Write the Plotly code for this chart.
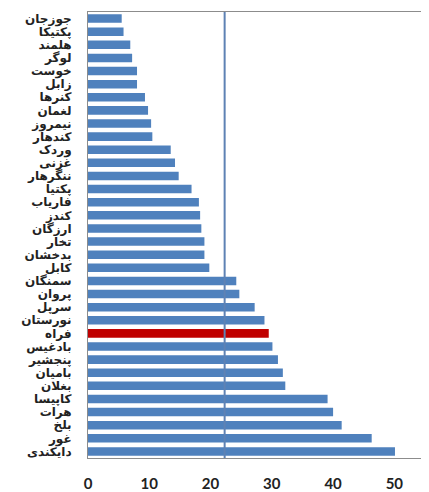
import plotly.graph_objects as go

provinces = ["جوزجان", "پکتیکا", "هلمند", "لوگر", "خوست", "زابل", "کنرها", "لغمان",
             "نیمروز", "کندهار", "وردک", "غزنی", "ننگرهار", "پکتیا", "فاریاب", "کندز",
             "ارزگان", "تخار", "بدخشان", "کابل", "سمنگان", "پروان", "سرپل", "نورستان",
             "فراه", "بادغیس", "پنجشیر", "بامیان", "بغلان", "کاپیسا", "هرات", "بلخ",
             "غور", "دایکندی"]
values = [5.5, 5.8, 6.9, 7.2, 8.0, 8.0, 9.3, 9.8, 10.3, 10.5, 13.5, 14.2, 14.8, 16.9,
          18.1, 18.3, 18.5, 19.0, 19.0, 19.8, 24.2, 24.7, 27.2, 28.8, 29.5, 30.1, 31.0,
          31.8, 32.2, 39.1, 40.0, 41.4, 46.3, 50.1]
highlight = "فراه"
national_average = 22.3
x_ticks = [0, 10, 20, 30, 40, 50]

blue = "#4F81BD"
red = "#C00000"
colors = [red if p == highlight else blue for p in provinces]

fig = go.Figure(go.Bar(
    x=values, y=provinces, orientation="h",
    marker=dict(color=colors, line=dict(width=0)),
))
fig.add_shape(type="line", xref="x", yref="paper", x0=national_average, x1=national_average,
              y0=0, y1=1, line=dict(color="#5E82B4", width=2))

# the page body has an 8px margin, so the figure is sized to fill the rest of the window
fig.update_layout(
    width=421, height=484,
    margin=dict(l=80, r=4, t=4, b=34, autoexpand=False),
    paper_bgcolor="white", plot_bgcolor="white",
    bargap=0.35,
    showlegend=False,
    xaxis=dict(range=[0, 55], tickvals=x_ticks, showgrid=False, zeroline=False,
               showline=True, linecolor="#8C8C8C", linewidth=1, mirror=True,
               ticks="", automargin=False, ticklabelstandoff=12,
               tickfont=dict(family="Lato", size=15, color="#222", weight="bold"),
               fixedrange=True),
    yaxis=dict(autorange="reversed", showgrid=False, showline=True, linecolor="#8C8C8C",
               linewidth=1, mirror=True, ticks="", automargin=False,
               tickmode="array", tickvals=provinces, ticktext=provinces,
               tickfont=dict(family="DejaVu Sans", size=12, color="#222", weight="bold"),
               ticklabelstandoff=13),
)

fig.write_html("out.html")
